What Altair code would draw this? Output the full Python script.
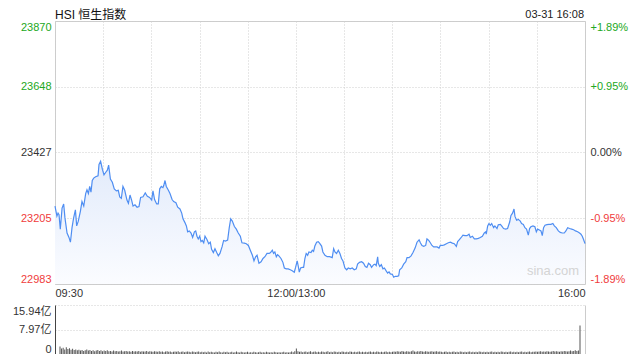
import altair as alt
import pandas as pd

# ---------------- data ----------------
title_text = "HSI 恒生指数"
time_text = "03-31 16:08"
watermark = "sina.com"
prev_close = 23427

# minutes since 09:30 (lunch break removed; 150 = 12:00/13:00, 330 = 16:00)
price_minute = [
    0, 1.2, 1.9, 2.5, 3.3, 4.4, 5.4, 6.2, 7.5, 8.7, 9.6, 10.6, 11.6, 12.7, 13.5, 14.5,
    15.8, 16.8, 17.9, 19.1, 19.9, 20.8, 21.6, 22.4, 23.2, 24.1, 25.3, 26.8, 27.4, 28.4,
    29.5, 30.5, 31.5, 32.6, 33.4, 34.5, 35.7, 36.9, 38.2, 39.4, 40.3, 41.3, 42.3, 43.4,
    44.8, 45.7, 46.7, 47.7, 48.6, 49.8, 51.1, 52.3, 53.3, 54.8, 56.2, 57.5, 58.9, 60.2,
    61.0, 62.0, 63.3, 64.3, 65.2, 66.2, 67.2, 67.7, 68.5, 69.3, 70.6, 71.6, 72.9, 73.9,
    75.3, 76.4, 77.8, 78.9, 79.7, 80.9, 81.8, 82.6, 83.6, 84.7, 85.7, 86.8, 87.6, 88.4,
    89.2, 90.1, 90.9, 91.7, 92.6, 93.4, 94.6, 95.7, 96.7, 97.5, 98.6, 99.6, 100.7, 101.7,
    102.7, 104.0, 105.0, 106.1, 107.5, 108.5, 109.4, 110.4, 111.7, 112.9, 114.1, 115.4,
    116.4, 117.9, 119.1, 120.4, 121.6, 122.9, 123.9, 124.9, 125.8, 127.0, 128.3, 129.5,
    130.7, 132.0, 133.4, 134.2, 135.3, 136.1, 136.9, 137.8, 138.6, 139.4, 140.7, 141.9,
    142.8, 144.0, 145.2, 146.5, 147.7, 149.0, 149.8, 150.8, 151.5, 152.1, 152.9, 154.0,
    154.8, 155.6, 156.4, 157.3, 158.1, 159.4, 160.2, 161.0, 161.8, 162.9, 163.9, 164.7,
    166.0, 166.8, 168.1, 169.5, 171.0, 172.6, 173.5, 174.3, 175.3, 176.4, 177.4, 178.4,
    179.3, 180.5, 181.6, 182.6, 183.8, 185.1, 186.3, 187.6, 188.4, 189.6, 190.9, 192.1,
    193.2, 194.2, 195.2, 196.3, 197.1, 198.4, 199.2, 200.0, 200.9, 201.3, 202.2, 203.2,
    204.2, 205.1, 206.1, 207.1, 208.0, 208.8, 210.1, 210.9, 211.9, 213.0, 214.0, 214.6,
    215.9, 217.1, 218.4, 219.2, 220.4, 221.7, 222.9, 224.2, 225.4, 226.7, 227.5, 228.5,
    229.6, 230.8, 231.6, 232.7, 233.7, 234.7, 235.8, 236.8, 237.9, 239.1, 239.9, 241.2,
    242.4, 243.7, 244.9, 246.2, 247.4, 248.6, 249.9, 250.7, 251.8, 252.8, 254.0, 255.3,
    256.5, 257.8, 258.6, 259.9, 261.1, 262.3, 263.6, 264.8, 266.1, 267.3, 268.2, 268.5,
    269.4, 270.2, 271.0, 271.9, 273.1, 273.9, 275.2, 276.0, 277.3, 278.1, 279.3, 280.6,
    281.8, 283.1, 283.9, 284.9, 285.8, 286.4, 287.4, 288.5, 289.7, 290.5, 291.6, 292.6,
    293.6, 294.7, 295.5, 296.3, 297.6, 298.8, 299.7, 300.5, 301.3, 302.6, 303.4, 304.2,
    305.1, 306.3, 307.5, 308.8, 310.0, 310.9, 312.1, 313.4, 314.6, 315.8, 317.1, 318.1,
    319.2, 320.4, 321.7, 322.9, 324.1, 325.4, 326.6, 327.5, 328.3, 329.1, 330.0,
]
price_value = [
    23246, 23212, 23222, 23217, 23168, 23239, 23253, 23206, 23155, 23140, 23124, 23173,
    23206, 23233, 23179, 23195, 23228, 23261, 23246, 23288, 23301, 23288, 23312, 23293,
    23332, 23340, 23345, 23348, 23386, 23397, 23370, 23351, 23359, 23367, 23384, 23337,
    23326, 23304, 23297, 23299, 23277, 23272, 23312, 23299, 23266, 23255, 23283, 23266,
    23246, 23250, 23242, 23244, 23275, 23277, 23290, 23279, 23275, 23266, 23297, 23268,
    23253, 23253, 23304, 23312, 23308, 23315, 23332, 23312, 23299, 23288, 23268, 23261,
    23257, 23242, 23236, 23222, 23203, 23190, 23179, 23159, 23162, 23155, 23140, 23159,
    23162, 23144, 23135, 23144, 23126, 23130, 23122, 23144, 23133, 23119, 23124, 23100,
    23089, 23102, 23089, 23078, 23086, 23108, 23130, 23128, 23131, 23173, 23203, 23195,
    23177, 23168, 23155, 23144, 23122, 23121, 23119, 23113, 23097, 23080, 23061, 23075,
    23080, 23053, 23058, 23069, 23075, 23086, 23086, 23089, 23097, 23086, 23091, 23075,
    23082, 23078, 23069, 23056, 23037, 23034, 23034, 23031, 23028, 23023, 23039, 23061,
    23042, 23023, 23037, 23039, 23039, 23069, 23086, 23080, 23091, 23089, 23097, 23093,
    23111, 23124, 23126, 23121, 23111, 23091, 23080, 23075, 23075, 23072, 23102, 23091,
    23086, 23097, 23086, 23069, 23061, 23037, 23031, 23037, 23034, 23037, 23031, 23034,
    23050, 23056, 23058, 23053, 23042, 23039, 23053, 23048, 23039, 23048, 23050, 23045,
    23075, 23053, 23042, 23048, 23034, 23037, 23028, 23020, 23024, 23017, 23015, 23006,
    23009, 23009, 23011, 23031, 23037, 23050, 23058, 23072, 23072, 23078, 23089, 23104,
    23124, 23132, 23122, 23113, 23110, 23113, 23135, 23130, 23122, 23113, 23108, 23108,
    23108, 23104, 23113, 23113, 23115, 23119, 23122, 23124, 23121, 23119, 23110, 23126,
    23133, 23139, 23148, 23146, 23146, 23151, 23140, 23144, 23135, 23135, 23137, 23140,
    23144, 23155, 23159, 23151, 23179, 23187, 23181, 23187, 23173, 23179, 23170, 23183,
    23184, 23179, 23170, 23168, 23170, 23192, 23214, 23222, 23236, 23211, 23198, 23201,
    23195, 23187, 23184, 23173, 23168, 23148, 23170, 23176, 23179, 23176, 23159, 23168,
    23166, 23162, 23146, 23173, 23181, 23183, 23184, 23184, 23187, 23179, 23173, 23162,
    23157, 23155, 23155, 23162, 23173, 23170, 23168, 23166, 23162, 23159, 23155, 23151,
    23144, 23133, 23119,
]

# per-minute turnover, in units of 0.1 亿 (index = minute since 09:30)
volume_tenths = [
    24, 18, 20, 15, 22, 16, 19, 14, 17, 13, 15,
    12, 14, 11, 13, 10, 12, 15, 11, 13, 10, 12, 9, 11, 13, 10, 12, 9, 11, 10, 12,
    9, 10, 8, 11, 9, 10, 8, 9, 11, 8, 9, 10, 8, 9, 7, 10, 8, 9, 8, 10, 7, 9, 8, 8, 10, 7, 9, 8, 7, 9,
    8, 7, 9, 7, 8, 6, 8, 9, 7, 8, 6, 7, 8, 7, 9, 6, 7, 8, 6, 7, 8, 7, 6, 8, 7, 6, 7, 8, 6, 7,
    6, 7, 5, 8, 6, 7, 6, 5, 7, 6, 8, 6, 5, 7, 6, 7, 5, 6, 7, 5, 6, 8, 6, 5, 7, 6, 5, 6, 7, 5,
    6, 5, 7, 6, 5, 6, 7, 5, 6, 5, 7, 6, 5, 6, 5, 7, 6, 5, 6, 5, 6, 7, 5, 6, 5, 6, 8, 6, 9,
    18,
    9, 7, 8, 6, 7, 8, 6, 7, 9, 6, 7, 8, 6, 7, 6, 8, 7, 6, 7, 9, 6, 7, 6, 8, 7, 6, 7, 6, 8, 7,
    6, 7, 6, 8, 7, 6, 7, 6, 7, 8, 6, 7, 6, 7, 6, 7, 8, 6, 7, 6, 8, 7, 6, 7, 6, 7, 8, 6, 7, 6,
    7, 8, 7, 9, 8, 7, 10, 8, 7, 9, 8, 7, 9, 11, 8, 7, 9, 8, 10, 8, 7, 9, 8, 7, 8, 9, 7, 8, 9, 7,
    8, 7, 6, 7, 8, 6, 7, 6, 7, 8, 6, 7, 6, 8, 7, 6, 7, 6, 7, 8, 6, 7, 6, 7, 6, 8, 7, 6, 7, 6,
    7, 6, 7, 8, 6, 7, 6, 7, 6, 8, 7, 6, 7, 6, 7, 8, 6, 7, 6, 7, 6, 7, 8, 6, 7, 6, 7, 8, 6, 7,
    7, 8, 7, 8, 9, 7, 8, 7, 9, 8, 7, 8, 10, 8, 9, 8, 7, 9, 8, 10, 9, 8, 9, 11, 9, 10, 12, 10, 11,
    93,
]

y_ticks = [22983, 23205, 23427, 23648, 23870]
pct_labels = ["-1.89%", "-0.95%", "0.00%", "+0.95%", "+1.89%"]
x_ticks = [0, 30, 60, 90, 120, 150, 180, 210, 240, 270, 300, 330]
x_label_pos = [0, 150, 330]
x_label_txt = ["09:30", "12:00/13:00", "16:00"]
vol_ticks = [0, 7.97, 15.94]
vol_labels = ["0", "7.97亿", "15.94亿"]

# ---------------- style ----------------
FONT = "Liberation Sans, Noto Sans CJK SC"
GREEN = "#22a822"
RED = "#f03c3c"
DARK = "#333333"
GRID = "#cfcfcf"
W = 530
H_PRICE = 263
H_VOL = 49

price_df = pd.DataFrame({"m": price_minute, "p": price_value})
vol_df = pd.DataFrame({"m": list(range(len(volume_tenths))),
                       "v": [t / 10 for t in volume_tenths]})

x_scale = alt.Scale(domain=[0, 330], nice=False, zero=False)
y_scale = alt.Scale(domain=[y_ticks[0], y_ticks[-1]], nice=False, zero=False)

color_cond = {
    "condition": [
        {"test": f"datum.value > {prev_close}", "value": GREEN},
        {"test": f"datum.value < {prev_close}", "value": RED},
    ],
    "value": DARK,
}

x_expr = " : ".join(f"datum.value == {p} ? '{t}'" for p, t in zip(x_label_pos, x_label_txt)) + " : ''"
pct_expr = " : ".join(f"datum.value == {v} ? '{t}'" for v, t in zip(y_ticks, pct_labels)) + " : ''"
vol_expr = " : ".join(f"abs(datum.value - {v}) < 0.001 ? '{t}'" for v, t in zip(vol_ticks, vol_labels)) + " : ''"

x_axis = alt.Axis(values=x_ticks, labelExpr=x_expr, grid=True, gridDash=[1, 2], gridColor=GRID,
                  domain=False, ticks=False, labelFlush=True, labelPadding=3, labelFontSize=11,
                  labelColor=DARK, labelFont=FONT, title=None)

left_axis = alt.Axis(values=y_ticks, format="d", grid=True, gridDash=[1, 2], gridColor=GRID,
                     domain=False, ticks=False, labelFlush=True, labelPadding=4, labelFontSize=11,
                     labelFont=FONT, labelColor=color_cond, title=None)

right_axis = alt.Axis(values=y_ticks, labelExpr=pct_expr, orient="right", grid=False,
                      domain=False, ticks=False, labelFlush=True, labelPadding=5, labelFontSize=11,
                      labelFont=FONT, labelColor=color_cond, title=None)

base = alt.Chart(price_df)

area = base.mark_area(
    color=alt.Gradient(gradient="linear",
                       stops=[alt.GradientStop(color="#fbfcff", offset=0),
                              alt.GradientStop(color="#e2ebfb", offset=1)],
                       x1=1, x2=1, y1=1, y2=0)
).encode(
    x=alt.X("m:Q", scale=x_scale, axis=x_axis),
    y=alt.Y("p:Q", scale=y_scale, axis=left_axis),
    y2=alt.datum(y_ticks[0]),
)

line = base.mark_line(color="#4f8ef2", strokeWidth=1.2).encode(
    x=alt.X("m:Q", scale=x_scale),
    y=alt.Y("p:Q", scale=y_scale),
)

right = base.mark_line(opacity=0).encode(
    x=alt.X("m:Q", scale=x_scale),
    y=alt.Y("p:Q", scale=y_scale, axis=right_axis),
)

head_left = alt.Chart(pd.DataFrame({"t": [title_text]})).mark_text(
    align="left", baseline="middle", fontSize=12, font=FONT, color="#111"
).encode(text="t:N", x=alt.value(0), y=alt.value(-6))

head_right = alt.Chart(pd.DataFrame({"t": [time_text]})).mark_text(
    align="right", baseline="middle", fontSize=11, font=FONT, color="#222"
).encode(text="t:N", x=alt.value(W - 1), y=alt.value(-6))

mark_wm = alt.Chart(pd.DataFrame({"t": [watermark]})).mark_text(
    align="right", baseline="middle", fontSize=13, font=FONT, color="#d4d4d4"
).encode(text="t:N", x=alt.value(W - 6), y=alt.value(H_PRICE - 13))

price_chart = alt.layer(
    alt.layer(area, line, mark_wm, head_left, head_right), right
).resolve_scale(y="independent").properties(
    width=W, height=H_PRICE, view=alt.ViewBackground(stroke="#cccccc")
)

# ---------------- volume panel ----------------
v_scale = alt.Scale(domain=[0, 15.94], nice=False, zero=True)
vol_left_axis = alt.Axis(values=vol_ticks, labelExpr=vol_expr, grid=True, gridDash=[1, 2],
                         gridColor=GRID, domain=True, domainColor="#444", ticks=False,
                         labelFlush=True, labelPadding=4, labelFontSize=11, labelFont=FONT,
                         labelColor=DARK, title=None)
vol_right_axis = alt.Axis(orient="right", labels=False, ticks=False, grid=False, domain=True,
                          domainColor="#cccccc", title=None)

bars = alt.Chart(vol_df).mark_bar(width=1, color="#555555").encode(
    x=alt.X("m:Q", scale=x_scale, axis=None),
    y=alt.Y("v:Q", scale=v_scale, axis=vol_left_axis),
)
bars_r = alt.Chart(vol_df).mark_bar(width=1, opacity=0).encode(
    x=alt.X("m:Q", scale=x_scale, axis=None),
    y=alt.Y("v:Q", scale=v_scale, axis=vol_right_axis),
)
vol_chart = alt.layer(bars, bars_r).resolve_scale(y="independent").properties(
    width=W, height=H_VOL, view=alt.ViewBackground(strokeWidth=0)
)

chart = alt.vconcat(price_chart, vol_chart, spacing=6).properties(
    padding={"left": 4, "top": 0, "right": 0, "bottom": 0}
).configure(font=FONT, background="white")

chart.save("out.html", embed_options={"renderer": "svg", "actions": False})
